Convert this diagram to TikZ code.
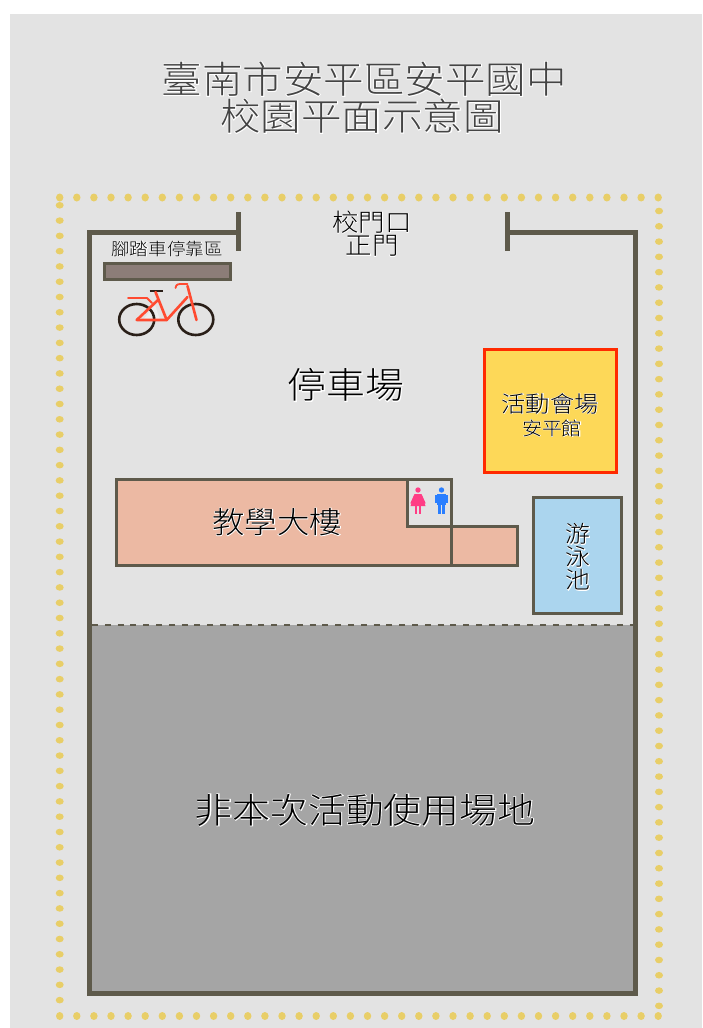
\documentclass[tikz,border=0pt]{standalone}
\usepackage{fontspec}
\usepackage{xcolor}
\usetikzlibrary{positioning}
\newfontfamily\cjk[FakeStretch=1.08]{Noto Sans CJK TC Light}
\newfontfamily\cjkhalo[FakeStretch=1.08,FakeBold=4]{Noto Sans CJK TC Light}
\newcommand{\Halo}[1]{\leavevmode\rlap{\cjkhalo\color{white}#1}{\cjk #1}}
\newcommand{\Fsize}[1]{\fontsize{#1}{#1}\selectfont}
\definecolor{ground}{HTML}{E3E3E3}
\definecolor{wall}{HTML}{5E5A4B}
\definecolor{dots}{HTML}{E8CE68}
\definecolor{closed}{HTML}{A5A5A5}
\definecolor{rack}{HTML}{8C7D78}
\definecolor{hall}{HTML}{FDD858}
\definecolor{hallred}{HTML}{FF2A00}
\definecolor{school}{HTML}{ECB9A3}
\definecolor{pool}{HTML}{ABD5EE}
\definecolor{bikered}{HTML}{FF4A30}
\definecolor{bikeblack}{HTML}{2A1F18}
\definecolor{woman}{HTML}{FF3D85}
\definecolor{man}{HTML}{2A7FFF}
\definecolor{titletext}{HTML}{444444}
\tikzstyle{Wall} = [draw=wall, line width=5pt, line cap=butt, line join=miter]
\tikzstyle{Room} = [draw=wall, line width=3pt, line join=miter]
\tikzstyle{Label} = [inner sep=0pt, outer sep=0pt, text=black, anchor=center]
\tikzstyle{Frame} = [draw=bikered, line width=2.6pt, line cap=round, line join=round]

\begin{document}
\begin{tikzpicture}[x=1pt, y=-1pt]
        \useasboundingbox (0,0) rectangle (702,1028);
        \fill[ground] (10,14) rectangle (702,1028);

        % dotted fence
        \foreach \i in {0,...,35} {
            \fill[dots] ({59.7+17.1*\i},197.5) ellipse (3.7 and 4);
            \fill[dots] ({59.7+17.1*\i},1016) ellipse (3.7 and 4);
        }
        \foreach \i in {0,...,52}
            \fill[dots] (59.7,{205.3+15.285*\i}) ellipse (4 and 3.3);
        \foreach \i in {0,...,52}
            \fill[dots] (659,{211+15.285*\i}) ellipse (4 and 3.3);

        % closed part
        \fill[closed] (91,625) rectangle (635,991);
        \draw[wall, line width=2pt, dash pattern=on 6pt off 6.8pt] (92,625) -- (634,625);

        % walls
        \draw[Wall] (238,232) -- (89.5,232) -- (89.5,993) -- (635.5,993) -- (635.5,232) -- (507,232);
        \draw[Wall] (238.5,212) -- (238.5,250.5);
        \draw[Wall] (507,212) -- (507,250.5);

        % rack and bike
        \draw[Room, fill=rack] (104.5,263) rectangle (230.5,279);
        \fill[white!93!black] (143,320) -- (155,305) -- (160,320) -- cycle;
        \draw[bikeblack, line width=2.6pt] (136.7,319.5) ellipse (17.5 and 15.5);
        \draw[bikeblack, line width=2.6pt] (195.8,319.5) ellipse (17.5 and 15.5);
        \draw[bikeblack, line width=2.2pt] (149.5,291) -- (163,291);
        \draw[Frame] (136.7,320) -- (166.7,320) -- (187.5,297);
        \draw[Frame] (136.7,320) -- (158,300);
        \draw[Frame] (166.7,320) -- (155.5,292);
        \draw[Frame] (196.5,320) -- (187.5,286);
        \draw[Frame, line width=1.8pt] (187.5,284) -- (180,284) .. controls (176,284) and (175.5,287) .. (175.5,288);
        \draw[Frame, line width=1.8pt] (128,298) -- (147,298) -- (152,303);

        % buildings
        \draw[Room, fill=school] (116,479) -- (407,479) -- (407,526) -- (517,526) -- (517,565) -- (116,565) -- cycle;
        \draw[Room, fill=ground] (407,479) rectangle (451,526);
        \draw[Room] (451,526) -- (451,565);
        \draw[Room, fill=pool] (533.5,497.5) rectangle (621.5,613);
        \draw[draw=hallred, line width=3.2pt, fill=hall] (484.5,349.5) rectangle (616.5,472.5);

        % toilet signs
        \fill[woman] (418,490) circle (2.7);
        \fill[woman] (415,494) -- (421,494) -- (425.5,506) -- (410.5,506) -- cycle;
        \draw[woman, line width=1.4pt] (415,494.5) -- (411,503.5) (421,494.5) -- (425,503.5);
        \draw[woman, line width=1.9pt] (416,505) -- (416,514) (420,505) -- (420,514);
        \fill[man] (441.5,490) circle (2.7);
        \fill[man] (437,494) rectangle (446,505);
        \draw[man, line width=1.6pt] (436,495) -- (436,503) (447,495) -- (447,503);
        \draw[man, line width=2.6pt] (439.3,504) -- (439.3,514) (443.7,504) -- (443.7,514);

        % labels
        \node[Label, text=titletext, font=\Fsize{37.5}] (title1) at (364,79) {\Halo{臺南市安平區安平國中}};
        \node[Label, text=titletext, font=\Fsize{37.5}] (title2) at (362,116) {\Halo{校園平面示意圖}};
        \node[Label, font=\Fsize{24.5}] (gate1) at (372,222) {\Halo{校門口}};
        \node[Label, font=\Fsize{24.5}] (gate2) at (372,246) {\Halo{正門}};
        \node[Label, font=\Fsize{17.2}] (racklabel) at (167,248.5) {\Halo{腳踏車停靠區}};
        \node[Label, font=\Fsize{36}] (parking) at (346,385) {\Halo{停車場}};
        \node[Label, font=\Fsize{22.5}] (hall1) at (550,403.5) {\Halo{活動會場}};
        \node[Label, font=\Fsize{18.5}] (hall2) at (552,428) {\Halo{安平館}};
        \node[Label, font=\Fsize{30}] (schoolname) at (277,522) {\Halo{教學大樓}};
        \node[Label, font=\Fsize{23}] (pool1) at (578,534) {\Halo{游}};
        \node[Label, font=\Fsize{23}] (pool2) at (578,557) {\Halo{泳}};
        \node[Label, font=\Fsize{23}] (pool3) at (578,580) {\Halo{池}};
        \node[Label, font=\Fsize{35}] (closedname) at (365,810) {\Halo{非本次活動使用場地}};
    \end{tikzpicture}
\end{document}
